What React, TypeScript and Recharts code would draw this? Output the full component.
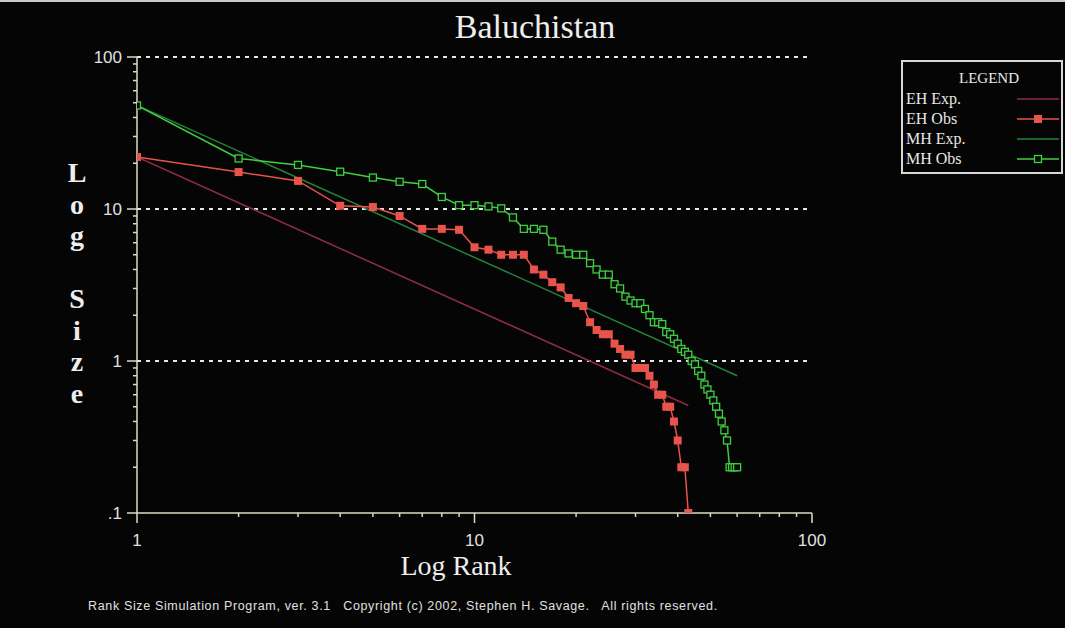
import React from "react";
import { ScatterChart, Scatter, XAxis, YAxis, ReferenceLine } from "recharts";

const ranks = [
  1, 2, 3, 4, 5, 6, 7, 8, 9, 10, 11, 12, 13, 14, 15, 16, 17, 18, 19, 20,
  21, 22, 23, 24, 25, 26, 27, 28, 29, 30, 31, 32, 33, 34, 35, 36, 37, 38, 39, 40,
  41, 42, 43, 44, 45, 46, 47, 48, 49, 50, 51, 52, 53, 54, 55, 56, 57, 58, 59, 60,
];

// EH observed site sizes, rank 1..43
const ehObsSize = [
  22, 17.5, 15.3, 10.5, 10.3, 9, 7.4, 7.4, 7.3, 5.6, 5.4, 5.0, 5.0, 5.0, 4.0,
  3.7, 3.3, 3.05, 2.6, 2.4, 2.3, 1.8, 1.6, 1.5, 1.5, 1.3, 1.2, 1.1, 1.1, 0.9,
  0.9, 0.9, 0.8, 0.7, 0.6, 0.6, 0.5, 0.5, 0.4, 0.3, 0.2, 0.2, 0.1,
];

// MH observed site sizes, rank 1..60
const mhObsSize = [
  48, 21.5, 19.5, 17.6, 16.1, 15.1, 14.6, 12.0, 10.6, 10.6, 10.4, 10.1, 8.8,
  7.4, 7.4, 7.3, 6.1, 5.4, 5.1, 5.0, 5.0, 4.4, 4.0, 3.7, 3.7, 3.2, 3.0, 2.65,
  2.5, 2.4, 2.4, 2.2, 2.0, 1.8, 1.8, 1.75, 1.55, 1.5, 1.4, 1.3, 1.2, 1.15, 1.1,
  1.0, 0.95, 0.86, 0.8, 0.7, 0.65, 0.6, 0.55, 0.5, 0.45, 0.4, 0.35, 0.3, 0.2,
  0.2, 0.2, 0.2,
];

// expected rank-size lines (end points)
const ehExpRank = [1, 43];
const ehExpSize = [22, 0.51];
const mhExpRank = [1, 60];
const mhExpSize = [48, 0.8];

const xTicks = [1, 2, 3, 4, 5, 6, 7, 8, 9, 10, 20, 30, 40, 50, 60, 70, 80, 90, 100];
const xMajor = [1, 10, 100];
const yTicks = [
  0.1, 0.2, 0.3, 0.4, 0.5, 0.6, 0.7, 0.8, 0.9, 1, 2, 3, 4, 5, 6, 7, 8, 9, 10,
  20, 30, 40, 50, 60, 70, 80, 90, 100,
];
const yMajor = [0.1, 1, 10, 100];
const yLabels: Record<string, string> = { "0.1": ".1", "1": "1", "10": "10", "100": "100" };
const gridLines = [1, 10, 100];

const EH_OBS = "#e8534c";
const EH_EXP = "#8e2c48";
const MH_OBS = "#3fcf3f";
const MH_EXP = "#24803a";
const AXIS = "#dcd8c8";
const SERIF = '"Liberation Serif", "Times New Roman", serif';
const SANS = '"Liberation Sans", Arial, sans-serif';

const ehObs = ehObsSize.map((s, i) => ({ rank: ranks[i], size: s }));
const mhObs = mhObsSize.map((s, i) => ({ rank: ranks[i], size: s }));
const ehExp = ehExpSize.map((s, i) => ({ rank: ehExpRank[i], size: s }));
const mhExp = mhExpSize.map((s, i) => ({ rank: mhExpRank[i], size: s }));

function YTick(props: any) {
  const { x, y, payload } = props;
  const major = yMajor.includes(payload.value);
  return (
    <g>
      <line x1={x - (major ? 10 : 4)} x2={x} y1={y} y2={y} stroke={AXIS} strokeWidth={1.5} />
      {major && (
        <text x={x - 15} y={y} dy={6} textAnchor="end" fill="#e0e0e0" fontSize={17} fontFamily={SANS}>
          {yLabels[String(payload.value)]}
        </text>
      )}
    </g>
  );
}

function XTick(props: any) {
  const { x, y, payload } = props;
  const major = xMajor.includes(payload.value);
  return (
    <g>
      <line x1={x} x2={x} y1={y} y2={y + (major ? 10 : 4)} stroke={AXIS} strokeWidth={1.5} />
      {major && (
        <text x={x} y={y + 27} dy={6} textAnchor="middle" fill="#e0e0e0" fontSize={17} fontFamily={SANS}>
          {payload.value}
        </text>
      )}
    </g>
  );
}

const filledSquare = (props: any) => (
  <rect x={props.cx - 4} y={props.cy - 4} width={8} height={8} fill={EH_OBS} />
);
const hollowSquare = (props: any) => (
  <rect x={props.cx - 3.5} y={props.cy - 3.5} width={7} height={7} fill="#0a0a0a" stroke={MH_OBS} strokeWidth={1.3} />
);
const noMark = () => <g />;

const legendRows = [
  { label: "EH Exp.", color: EH_EXP, mark: "none" },
  { label: "EH Obs", color: EH_OBS, mark: "filled" },
  { label: "MH Exp.", color: MH_EXP, mark: "none" },
  { label: "MH Obs", color: MH_OBS, mark: "hollow" },
];

const yLabelLetters = ["L", "o", "g", "", "S", "i", "z", "e"];

export default function App() {
  return (
    <div
      style={{
        position: "fixed",
        left: 0,
        top: 0,
        width: 1065,
        height: 628,
        background: "#050505",
        borderTop: "2px solid #c8c8c8",
        boxSizing: "border-box",
        overflow: "hidden",
      }}
    >
      <div
        style={{
          position: "absolute",
          left: 0,
          width: 1070,
          top: 6,
          textAlign: "center",
          color: "#eeeeee",
          fontFamily: SERIF,
          fontSize: 34,
        }}
      >
        Baluchistan
      </div>

      {yLabelLetters.map((ch, i) => (
        <div
          key={i}
          style={{
            position: "absolute",
            left: 62,
            width: 30,
            top: 155 + i * 31.5,
            textAlign: "center",
            color: "#eeeeee",
            fontFamily: SERIF,
            fontWeight: "bold",
            fontSize: 28,
            lineHeight: "32px",
          }}
        >
          {ch}
        </div>
      ))}

      <div style={{ position: "absolute", top: -2, left: 0 }}>
        <ScatterChart width={1065} height={628} margin={{ top: 57, right: 253, bottom: 85, left: 97 }}>
          {gridLines.map((v) => (
            <ReferenceLine key={v} y={v} stroke="#e6e6e6" strokeWidth={2} strokeDasharray="4 5" />
          ))}
          <XAxis
            type="number"
            dataKey="rank"
            scale="log"
            domain={[1, 100]}
            ticks={xTicks}
            interval={0}
            height={30}
            tickSize={0}
            tickMargin={0}
            tickLine={false}
            axisLine={{ stroke: AXIS, strokeWidth: 1.5 }}
            tick={<XTick />}
            allowDataOverflow
          />
          <YAxis
            type="number"
            dataKey="size"
            scale="log"
            domain={[0.1, 100]}
            ticks={yTicks}
            interval={0}
            width={40}
            tickSize={0}
            tickMargin={0}
            tickLine={false}
            axisLine={{ stroke: AXIS, strokeWidth: 1.5 }}
            tick={<YTick />}
            allowDataOverflow
          />
          <Scatter data={ehExp} line={{ stroke: EH_EXP, strokeWidth: 1.5 }} shape={noMark} isAnimationActive={false} />
          <Scatter data={mhExp} line={{ stroke: MH_EXP, strokeWidth: 1.5 }} shape={noMark} isAnimationActive={false} />
          <Scatter data={ehObs} line={{ stroke: EH_OBS, strokeWidth: 1.5 }} shape={filledSquare} isAnimationActive={false} />
          <Scatter data={mhObs} line={{ stroke: MH_OBS, strokeWidth: 1.5 }} shape={hollowSquare} isAnimationActive={false} />
        </ScatterChart>
      </div>

      <div
        style={{
          position: "absolute",
          left: 0,
          width: 912,
          top: 548,
          textAlign: "center",
          color: "#eeeeee",
          fontFamily: SERIF,
          fontSize: 28,
        }}
      >
        Log Rank
      </div>

      <div
        style={{
          position: "absolute",
          left: 88,
          top: 597,
          color: "#e0e0e0",
          fontFamily: SANS,
          fontSize: 12.5,
          letterSpacing: 0.65,
          whiteSpace: "pre",
        }}
      >
        {"Rank Size Simulation Program, ver. 3.1   Copyright (c) 2002, Stephen H. Savage.   All rights reserved."}
      </div>

      <div
        style={{
          position: "absolute",
          left: 901,
          top: 58,
          width: 162,
          height: 114,
          border: "2px solid #d8d8d8",
          boxSizing: "border-box",
          fontFamily: SERIF,
          color: "#e8e8e8",
          fontSize: 16,
        }}
      >
        <div style={{ position: "absolute", left: 0, width: 172, top: 8, textAlign: "center", fontSize: 15 }}>
          LEGEND
        </div>
        {legendRows.map((r, i) => (
          <div key={r.label} style={{ position: "absolute", left: 3, top: 28 + i * 20, lineHeight: "18px" }}>
            {r.label}
          </div>
        ))}
        {legendRows.map((r, i) => (
          <svg
            key={r.label + "-s"}
            width={44}
            height={12}
            style={{ position: "absolute", left: 114, top: 31 + i * 20 }}
          >
            <line x1={0} x2={42} y1={6} y2={6} stroke={r.color} strokeWidth={1.5} />
            {r.mark === "filled" && <rect x={17} y={2} width={8} height={8} fill={EH_OBS} />}
            {r.mark === "hollow" && (
              <rect x={17.5} y={2.5} width={7} height={7} fill="#0a0a0a" stroke={MH_OBS} strokeWidth={1.3} />
            )}
          </svg>
        ))}
      </div>
    </div>
  );
}
